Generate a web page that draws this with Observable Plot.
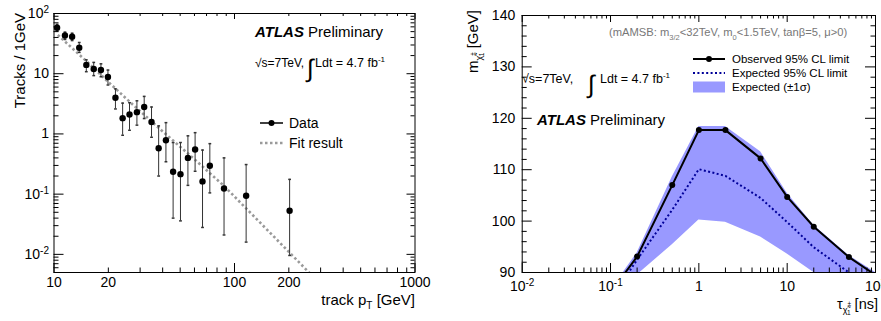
<!DOCTYPE html>
<html><head><meta charset="utf-8">
<script src="https://cdn.jsdelivr.net/npm/d3@7"></script>
<script src="https://cdn.jsdelivr.net/npm/@observablehq/plot@0.6"></script>
<style>
body{margin:0;background:#fff;}
#wrap{position:relative;width:881px;height:321px;overflow:hidden;font-family:"Liberation Sans",Arial,Helvetica,sans-serif;}
#wrap svg{position:absolute;top:0;}
</style></head><body><div id="wrap"></div>
<script>
// ---------- Left panel data (track pT spectrum) ----------
const trackPt      = [10.4, 11.5, 12.6, 13.8, 15.1, 16.6, 18.2, 19.9, 21.9, 24.0, 26.2, 28.8, 31.6, 34.7, 38.0, 41.7, 45.7, 50.2, 55.2, 60.5, 66.5, 73.0, 87.5, 116, 202];
const tracksPerGeV = [58, 43, 41, 27, 14, 12, 11.5, 8.8, 4.0, 1.83, 2.1, 2.3, 2.8, 1.58, 0.58, 0.785, 0.235, 0.215, 0.40, 0.55, 0.163, 0.296, 0.124, 0.094, 0.053];
const errHigh      = [66, 49, 47, 33, 17, 15.4, 14.6, 11.5, 5.6, 3.25, 3.3, 3.55, 4.2, 2.8, 1.36, 1.54, 0.72, 0.72, 0.93, 1.05, 0.54, 0.69, 0.40, 0.31, 0.176];
const errLow       = [51, 37, 35.5, 22.6, 10.8, 9.3, 8.9, 6.5, 2.6, 0.95, 1.15, 1.4, 1.8, 0.88, 0.2, 0.345, 0.040, 0.036, 0.14, 0.24, 0.028, 0.105, 0.021, 0.016, 0.0096];
const fitPt        = [10.5, 15, 20, 26.6, 40, 60, 87.7, 130, 200, 266];
const fitValue     = [44, 16.5, 7.3, 3.3, 1.1, 0.38, 0.136, 0.041, 0.011, 0.0046];
const leftXTicks   = [10, 20, 50, 100, 200, 500, 1000];
const leftXLabels  = ["10", "20", "50", "100", "200", "500", "1000"];
const leftYTicks   = [0.01, 0.1, 1, 10, 100];
const leftYLabels  = ["10^-2", "10^-1", "1", "10", "10^2"];

// ---------- Right panel data (mAMSB limit) ----------
const tauNs        = [0.1, 0.2, 0.5, 1, 2, 5, 10, 20, 50, 100];
const observedMass = [86.1, 93.1, 107.0, 117.7, 117.7, 112.2, 104.7, 98.9, 93.0, 89.5];
const expectedMass = [84.7, 92.5, 102.2, 110.1, 108.8, 104.5, 99.8, 94.9, 90.0, 86.0];
const bandHigh     = [86.5, 93.8, 108.6, 118.4, 118.4, 113.5, 105.4, 99.2, 93.3, 90.0];
const bandLow      = [80.0, 89.5, 95.4, 100.2, 99.8, 96.9, 93.6, 90.0, 85.0, 82.0];
const rightXTicks  = [0.01, 0.1, 1, 10, 100];
const rightXLabels = ["10^-2", "10^-1", "1", "10", "10^2"];
const rightYTicks  = [90, 100, 110, 120, 130, 140];
const rightYLabels = ["90", "100", "110", "120", "130", "140"];

const FONT = '"Liberation Sans", Arial, Helvetica, sans-serif';
const wrap = document.getElementById("wrap");

function logMinors(lo, hi, majors) {
  const out = [];
  for (let e = Math.floor(Math.log10(lo)) - 1; e <= Math.ceil(Math.log10(hi)); e++)
    for (let m = 1; m <= 9; m++) {
      const v = +(m * Math.pow(10, e)).toPrecision(6);
      if (v >= lo && v <= hi && !majors.some(t => Math.abs(t - v) / v < 1e-6)) out.push(v);
    }
  return out;
}
function frameTicks(FW, FH, xMaj, xMin, yMaj, yMin, L) {
  const s = {stroke: "#000", strokeWidth: 1};
  return [
    Plot.tickX(xMaj, {x: d => d, insetTop: FH - L.xb[0], ...s}),
    Plot.tickX(xMin, {x: d => d, insetTop: FH - L.xb[1], ...s}),
    Plot.tickX(xMaj, {x: d => d, insetBottom: FH - L.xt[0], ...s}),
    Plot.tickX(xMin, {x: d => d, insetBottom: FH - L.xt[1], ...s}),
    Plot.tickY(yMaj, {y: d => d, insetRight: FW - L.yl[0], ...s}),
    Plot.tickY(yMin, {y: d => d, insetRight: FW - L.yl[1], ...s}),
    Plot.tickY(yMaj, {y: d => d, insetLeft: FW - L.yr[0], ...s}),
    Plot.tickY(yMin, {y: d => d, insetLeft: FW - L.yr[1], ...s})
  ];
}
function supify(svg) {
  svg.querySelectorAll("text").forEach(t => {
    const m = t.textContent.match(/^10\^(.+)$/);
    if (!m) return;
    t.textContent = "10";
    const s = document.createElementNS("http://www.w3.org/2000/svg", "tspan");
    s.setAttribute("dy", "-0.5em");
    s.setAttribute("font-size", "10");
    s.textContent = m[1];
    t.appendChild(s);
  });
}
const cap = {draw(ctx, size) { const w = Math.sqrt(size / Math.PI); ctx.moveTo(-w, 0); ctx.lineTo(w, 0); }};

// ---------- Left plot ----------
const leftRows = trackPt.map((p, i) => ({pt: p, n: tracksPerGeV[i], lo: errLow[i], hi: errHigh[i]}));
const fitRows = fitPt.map((p, i) => ({pt: p, y: fitValue[i]}));
const LW = 440, LH = 321, LmL = 53.5, LmR = 25.5, LmT = 13, LmB = 49;
const lxMap = new Map(leftXTicks.map((t, i) => [t, leftXLabels[i]]));
const lyMap = new Map(leftYTicks.map((t, i) => [t, leftYLabels[i]]));
const leftPlot = Plot.plot({
  width: LW, height: LH, marginLeft: LmL, marginRight: LmR, marginTop: LmT, marginBottom: LmB,
  style: {fontFamily: FONT, fontSize: "14px", color: "#000", background: "transparent"},
  x: {type: "log", domain: [10, 1000]},
  y: {type: "log", domain: [0.005, 100]},
  marks: [
    Plot.line(fitRows, {x: "pt", y: "y", stroke: "#9a9a9a", strokeWidth: 2.6, strokeDasharray: "2.5,2.5", strokeLinecap: "butt", clip: true}),
    Plot.ruleX(leftRows, {x: "pt", y1: "lo", y2: "hi", stroke: "#333", strokeWidth: 1}),
    Plot.dot(leftRows, {x: "pt", y: "hi", symbol: cap, r: 1.4, stroke: "#333", fill: "none"}),
    Plot.dot(leftRows, {x: "pt", y: "lo", symbol: cap, r: 1.4, stroke: "#333", fill: "none"}),
    Plot.dot(leftRows, {x: "pt", y: "n", r: 3.2, fill: "#000", stroke: "none"}),
    Plot.frame({stroke: "#000", strokeWidth: 1}),
    ...frameTicks(LW - LmL - LmR, LH - LmT - LmB,
      [10, 100, 1000], logMinors(10, 1000, [10, 100, 1000]),
      leftYTicks, logMinors(0.005, 100, leftYTicks),
      {xb: [9, 4.5], xt: [6, 3], yl: [10, 5], yr: [8, 4]}),
    Plot.axisX(leftXTicks, {tickSize: 0, tickPadding: 5, tickFormat: d => lxMap.get(d), label: null}),
    Plot.axisY(leftYTicks, {tickSize: 0, tickPadding: 5, tickFormat: d => lyMap.get(d), label: null})
  ]
});
leftPlot.style.left = "0px";
supify(leftPlot);
wrap.appendChild(leftPlot);

// ---------- Right plot ----------
const rightRows = tauNs.map((t, i) => ({tau: t, obs: observedMass[i], exp: expectedMass[i], lo: bandLow[i], hi: bandHigh[i]}));
const RW = 441, RH = 321, RmL = 81.7, RmR = 6, RmT = 15, RmB = 49;
const rxMap = new Map(rightXTicks.map((t, i) => [t, rightXLabels[i]]));
const ryMap = new Map(rightYTicks.map((t, i) => [t, rightYLabels[i]]));
const yMinR = d3.range(90, 141, 2).filter(v => v % 10 !== 0);
const rightPlot = Plot.plot({
  width: RW, height: RH, marginLeft: RmL, marginRight: RmR, marginTop: RmT, marginBottom: RmB,
  style: {fontFamily: FONT, fontSize: "14px", color: "#000", background: "transparent", overflow: "visible"},
  x: {type: "log", domain: [0.01, 100]},
  y: {domain: [90, 140]},
  marks: [
    Plot.areaY(rightRows, {x: "tau", y1: "lo", y2: "hi", fill: "#9999ff", clip: true}),
    Plot.line(rightRows, {x: "tau", y: "exp", stroke: "#000099", strokeWidth: 2, strokeDasharray: "2,2.4", strokeLinecap: "butt", clip: true}),
    Plot.line(rightRows, {x: "tau", y: "obs", stroke: "#000", strokeWidth: 2, clip: true}),
    Plot.dot(rightRows, {x: "tau", y: "obs", r: 3, fill: "#000", stroke: "none", clip: true}),
    Plot.frame({stroke: "#000", strokeWidth: 1}),
    ...frameTicks(RW - RmL - RmR, RH - RmT - RmB,
      rightXTicks, logMinors(0.01, 100, rightXTicks),
      rightYTicks, yMinR,
      {xb: [9, 4.5], xt: [7, 3.5], yl: [10, 5], yr: [10, 4.5]}),
    Plot.axisX(rightXTicks, {tickSize: 0, tickPadding: 9, tickFormat: d => rxMap.get(d), label: null}),
    Plot.axisY(rightYTicks, {tickSize: 0, tickPadding: 7, tickFormat: d => ryMap.get(d), label: null})
  ]
});
rightPlot.style.left = "440px";
supify(rightPlot);
wrap.appendChild(rightPlot);

// ---------- Annotations, legends, axis titles ----------
const ov = `
<svg width="881" height="321" style="left:0;pointer-events:none;font-family:${FONT.replace(/"/g, "'")}" xmlns="http://www.w3.org/2000/svg">
  <text transform="translate(25,13) rotate(-90)" text-anchor="end" font-size="15">Tracks / 1GeV</text>
  <text x="415" y="305" text-anchor="end" font-size="15">track p<tspan font-size="10" dy="4">T</tspan><tspan dy="-4"> [GeV]</tspan></text>
  <text x="255" y="37" font-size="15"><tspan font-weight="bold" font-style="italic">ATLAS</tspan> Preliminary</text>
  <text x="255" y="67" font-size="12">√s=7TeV,</text>
  <text x="307" y="77" font-size="25">∫</text>
  <text x="315" y="67" font-size="12.5">Ldt = 4.7 fb<tspan font-size="8" dy="-5">-1</tspan></text>
  <line x1="260" x2="283" y1="123" y2="123" stroke="#000" stroke-width="1.5"/>
  <circle cx="271.5" cy="123" r="3" fill="#000"/>
  <text x="289" y="128" font-size="14">Data</text>
  <line x1="260" x2="283" y1="143" y2="143" stroke="#9a9a9a" stroke-width="2.6" stroke-dasharray="2.5,2.5"/>
  <text x="289" y="148" font-size="14">Fit result</text>

  <text x="609" y="36" font-size="11.2" fill="#777">(mAMSB: m<tspan font-size="7.5" dy="4">3/2</tspan><tspan dy="-4">&lt;32TeV, m</tspan><tspan font-size="7.5" dy="4">0</tspan><tspan dy="-4">&lt;1.5TeV, tanβ=5, μ&gt;0)</tspan></text>
  <text x="522" y="83" font-size="12.5">√s=7TeV,</text>
  <text x="588" y="93" font-size="25">∫</text>
  <text x="600" y="83" font-size="12.5">Ldt = 4.7 fb<tspan font-size="8" dy="-5">-1</tspan></text>
  <text x="537" y="125" font-size="15"><tspan font-weight="bold" font-style="italic">ATLAS</tspan> Preliminary</text>
  <line x1="693" x2="725" y1="59" y2="59" stroke="#000" stroke-width="2"/>
  <circle cx="709" cy="59" r="3" fill="#000"/>
  <text x="732" y="63" font-size="11.5">Observed 95% CL limit</text>
  <line x1="693" x2="725" y1="73" y2="73" stroke="#000099" stroke-width="2" stroke-dasharray="2,2.4"/>
  <text x="732" y="77" font-size="11.5">Expected 95% CL limit</text>
  <rect x="693" y="81.5" width="32" height="11" fill="#9999ff"/>
  <text x="732" y="90.5" font-size="11.5">Expected (±1σ)</text>
  <text transform="translate(478,10) rotate(-90)" text-anchor="end" font-size="15">m<tspan font-size="9" dy="4">χ̃</tspan><tspan font-size="6.5" dy="-7">±</tspan><tspan font-size="6.5" dx="-4" dy="9">1</tspan><tspan font-size="15" dy="-6"> [GeV]</tspan></text>
  <text x="878" y="309" text-anchor="end" font-size="14.5">τ<tspan font-size="9" dy="4">χ̃</tspan><tspan font-size="6.5" dy="-7">±</tspan><tspan font-size="6.5" dx="-4" dy="9">1</tspan><tspan font-size="14.5" dy="-6"> [ns]</tspan></text>
</svg>`;
wrap.insertAdjacentHTML("beforeend", ov);
</script>
</body></html>
